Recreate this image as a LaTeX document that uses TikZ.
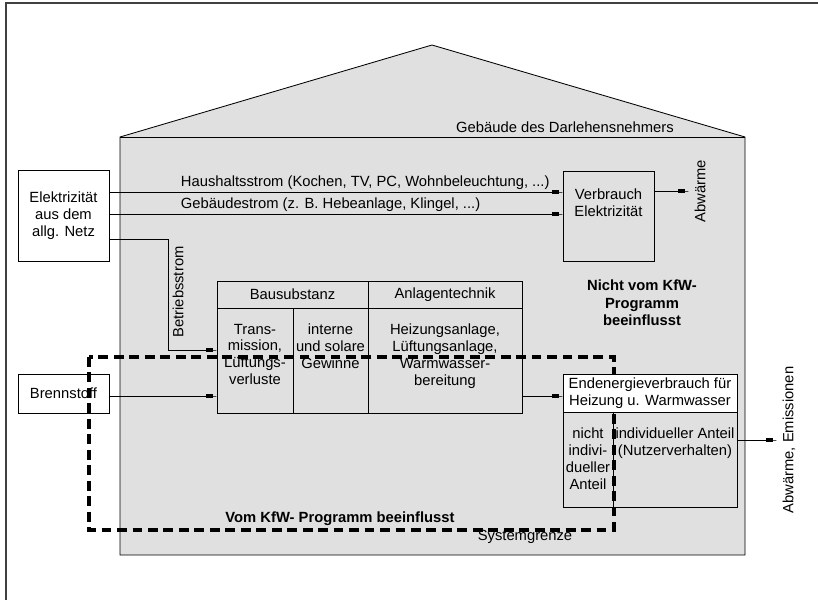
\documentclass[tikz,border=0pt]{standalone}
\usepackage{fontspec}
\setmainfont{Liberation Sans}
\usetikzlibrary{arrows.meta,positioning}

\begin{document}
\begin{tikzpicture}[x=0.025cm,y=-0.025cm,
  font=\fontsize{10.5}{12}\selectfont,
  box/.style={draw, fill=white, line width=0.5pt, inner sep=0pt, align=center},
  cell/.style={draw, line width=0.5pt, inner sep=0pt, align=center},
  celltext/.style={align=center, inner sep=0pt},
  flow/.style={line width=0.5pt, -{Square[length=4.5pt,width=2.4pt]Rectangle[length=3pt,width=0.5pt]}},
  grenze/.style={line width=2.4pt, dash pattern=on 7pt off 4pt},
  sidelabel/.style={rotate=90, inner sep=4pt},
  boldtext/.style={font=\fontsize{10.5}{12.5}\selectfont\bfseries, align=center}]

\useasboundingbox (0,0) rectangle (818,600);

% frame and house
\draw[line width=1pt, black!75] (6,600) -- (6,3) -- (818,3);
\draw[fill=black!12, line width=0.6pt] (120,555) -- (120,137) -- (432,45) -- (745,137) -- (745,555) -- cycle;
\draw[line width=0.6pt] (120,137) -- (745,137);
\node (gebaeude) at (565,127) {Gebäude des Darlehensnehmers};

% sources
\node[box, minimum width=2.275cm, minimum height=2.275cm] (netz) at (63.5,215.5) {Elektrizität\\aus dem\\allg. Netz};
\node[box, minimum width=2.275cm, minimum height=0.975cm] (brenn) at (63.5,393.5) {Brennstoff};

% electricity use
\node[cell, minimum width=2.275cm, minimum height=2.25cm] (verbrauch) at (608.5,216) {};
\node[celltext, below=0.45cm of verbrauch.north] (verbrauchtext) {Verbrauch\\Elektrizität};

% building / plant table
\node[cell, minimum width=3.775cm, minimum height=0.675cm] (bau) at (292.5,294.5) {Bausubstanz};
\node[cell, minimum width=3.85cm, minimum height=0.675cm] (anl) at (445,294.5) {Anlagentechnik};
\node[cell, minimum width=1.9cm, minimum height=2.625cm] (trans) at (255,360.5) {};
\node[cell, minimum width=1.875cm, minimum height=2.625cm] (intern) at (330.5,360.5) {};
\node[cell, minimum width=3.85cm, minimum height=2.625cm] (heiz) at (445,360.5) {};
\node[celltext, below=0.4cm of trans.north] (transtext) {Trans-\\mission,\\Lüftungs-\\verluste};
\node[celltext, below=0.4cm of intern.north] (interntext) {interne\\und solare\\Gewinne};
\node[celltext, below=0.4cm of heiz.north] (heiztext) {Heizungsanlage,\\Lüftungsanlage,\\Warmwasser-\\bereitung};

% final energy
\node[cell, minimum width=1.25cm, minimum height=2.375cm] (endleft) at (588,459.5) {};
\node[cell, minimum width=3.1cm, minimum height=2.375cm] (endright) at (675,459.5) {};
\node[celltext, below=0.4cm of endleft.north] (endlefttext) {nicht\\indivi-\\dueller\\Anteil};
\node[celltext, below=0.4cm of endright.north] (endrighttext) {individueller Anteil\\(Nutzerverhalten)};

% system boundary
\draw[grenze] (89,357) rectangle (614,530);
\node[box, minimum width=4.35cm, minimum height=0.95cm] (endhead) at (650,393) {Endenergieverbrauch für\\Heizung u. Warmwasser};

% side labels
\node[sidelabel] (abw) at (700,191) {Abwärme};
\node[sidelabel] (emis) at (789,440) {Abwärme, Emissionen};
\node[sidelabel] (betrieb) at (178,292) {Betriebsstrom};

% flows
\draw[flow] (netz.east |- 0,192) -- (verbrauch.west |- 0,192);
\draw[flow] (netz.east |- 0,214) -- (verbrauch.west |- 0,214);
\node[anchor=west] (hhlabel) at (176,183) {Haushaltsstrom (Kochen, TV, PC, Wohnbeleuchtung, ...)};
\node[anchor=west] (gblabel) at (176,205) {Gebäudestrom (z. B. Hebeanlage, Klingel, ...)};
\draw[flow] (verbrauch.east |- abw.north) -- (abw.north);
\draw[flow] (netz.east |- 0,239) -- (168,239) -- (168,350) -- (trans.west |- 0,350);
\draw[flow] (brenn.east |- 0,396) -- (trans.west |- 0,396);
\draw[flow] (heiz.east |- 0,396) -- (endhead.west |- 0,396);
\draw[flow] (endright.east |- emis.north) -- (emis.north);

% texts
\node[boldtext] (nicht) at (642,303) {Nicht vom KfW-\\Programm\\beeinflusst};
\node[boldtext] (vom) at (340,519) {Vom KfW- Programm beeinflusst};
\node (grenzlabel) at (525,537) {Systemgrenze};

\end{tikzpicture}
\end{document}
